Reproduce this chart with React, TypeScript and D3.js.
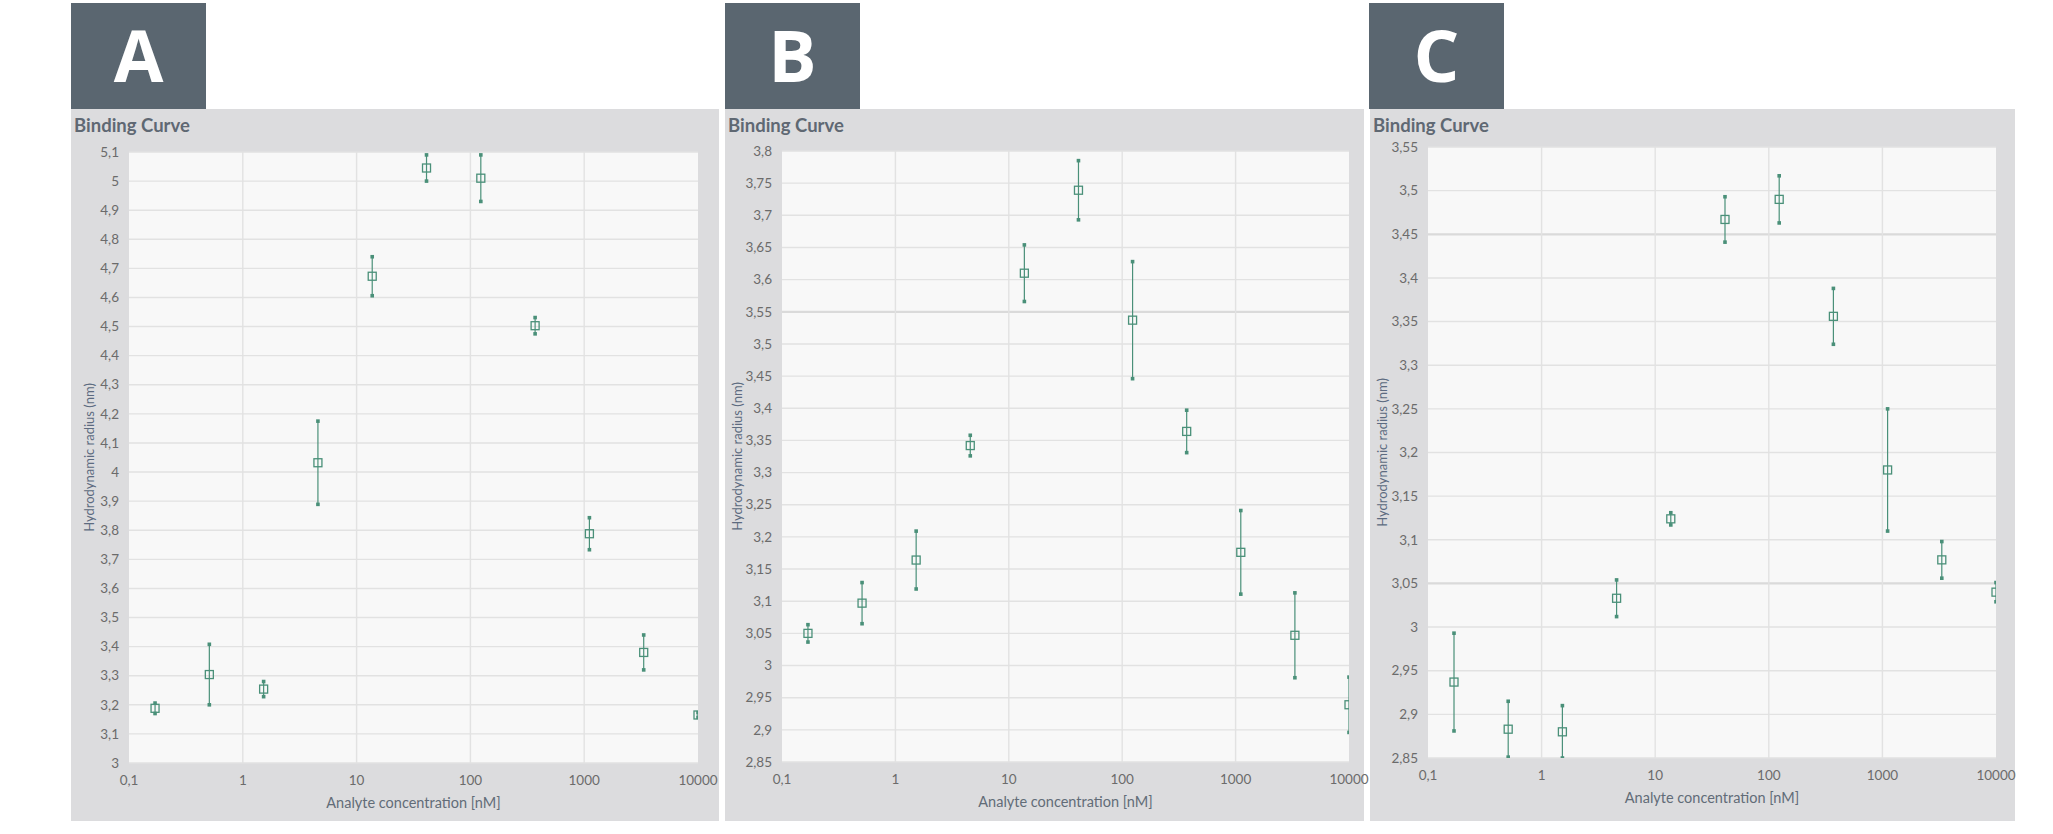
import * as d3 from 'd3'
import React from 'react'

// serial 1:3 dilution of the analyte, nM
const concentrations = [0.1694, 0.5081, 1.5242, 4.5725, 13.717, 41.152, 123.457, 370.37, 1111.1, 3333.3, 10000]

// hydrodynamic radius (nm), mean and half error bar
const radiusA = [3.188, 3.304, 3.254, 4.032, 4.673, 5.045, 5.01, 4.503, 3.788, 3.38, 3.165]
const errorA = [0.018, 0.104, 0.026, 0.143, 0.067, 0.045, 0.08, 0.028, 0.055, 0.06, 0.008]

const radiusB = [3.05, 3.097, 3.164, 3.342, 3.61, 3.739, 3.537, 3.364, 3.176, 3.047, 2.939]
const errorB = [0.0135, 0.032, 0.045, 0.016, 0.044, 0.046, 0.091, 0.033, 0.065, 0.066, 0.043]

const radiusC = [2.937, 2.883, 2.88, 3.033, 3.124, 3.467, 3.49, 3.356, 3.18, 3.077, 3.04]
const errorC = [0.056, 0.032, 0.03, 0.021, 0.007, 0.026, 0.027, 0.032, 0.07, 0.021, 0.011]

const xTicks = [0.1, 1, 10, 100, 1000, 10000]
const xTickLabels = ['0,1', '1', '10', '100', '1000', '10000']

const panelLetters = ['A', 'B', 'C']
const chartTitle = 'Binding Curve'
const xTitle = 'Analyte concentration [nM]'
const yTitle = 'Hydrodynamic radius (nm)'

const W = 2053
const H = 834
const green = '#4a9079'
const font = 'Lato, "Open Sans", sans-serif'

const panels = [
  {
    radius: radiusA, error: errorA, yDomain: [3, 5.1], yStep: 0.1,
    boxX: 71, frameX: 71, frameW: 648, plot: { l: 129, r: 698, t: 152, b: 763 }, yTitleX: 89, heavy: [] as number[],
  },
  {
    radius: radiusB, error: errorB, yDomain: [2.85, 3.8], yStep: 0.05,
    boxX: 725, frameX: 725, frameW: 639, plot: { l: 782, r: 1349, t: 151, b: 762 }, yTitleX: 737, heavy: [3.55],
  },
  {
    radius: radiusC, error: errorC, yDomain: [2.85, 3.55], yStep: 0.05,
    boxX: 1369, frameX: 1370, frameW: 645, plot: { l: 1428, r: 1996, t: 147, b: 758 }, yTitleX: 1382, heavy: [3.45, 3.05],
  },
]

const fmt = (v: number) => String(+v.toFixed(2)).replace('.', ',')

function Panel({ p, letter, idx }: { p: (typeof panels)[number]; letter: string; idx: number }) {
  const { plot } = p
  const x = d3.scaleLog().domain([0.1, 10000]).range([plot.l, plot.r])
  const y = d3.scaleLinear().domain(p.yDomain).range([plot.b, plot.t])
  const n = Math.round((p.yDomain[1] - p.yDomain[0]) / p.yStep)
  const yTicks = d3.range(n + 1).map((i) => +(p.yDomain[0] + i * p.yStep).toFixed(3))
  const clipId = `clip-${idx}`
  const cx = (plot.l + plot.r) / 2
  const cy = (plot.t + plot.b) / 2

  return (
    <g>
      {/* letter tab */}
      <rect x={p.boxX} y={3} width={135} height={106} fill="#5a6670" />
      <text
        x={p.boxX + 67.5}
        y={82}
        textAnchor="middle"
        fill="#fff"
        fontFamily='"Open Sans", sans-serif'
        fontWeight={700}
        fontSize={72}
      >
        {letter}
      </text>

      {/* grey frame */}
      <rect x={p.frameX} y={109} width={p.frameW} height={712} fill="#dcdcde" />
      <text x={p.frameX + 3} y={132} fill="#5f6873" fontFamily={font} fontWeight={700} fontSize={18.5}>
        {chartTitle}
      </text>

      <defs>
        <clipPath id={clipId}>
          <rect x={plot.l} y={plot.t} width={plot.r - plot.l} height={plot.b - plot.t} />
        </clipPath>
      </defs>
      <rect x={plot.l} y={plot.t} width={plot.r - plot.l} height={plot.b - plot.t} fill="#f8f8f8" />

      {/* grid */}
      {yTicks.map((t) => (
        <line
          key={`h${t}`}
          x1={plot.l}
          x2={plot.r}
          y1={y(t)}
          y2={y(t)}
          stroke={p.heavy.includes(t) ? '#dadada' : '#e2e2e2'}
          strokeWidth={p.heavy.includes(t) ? 2.2 : 1.4}
        />
      ))}
      {xTicks.slice(1, -1).map((t) => (
        <line key={`v${t}`} x1={x(t)} x2={x(t)} y1={plot.t} y2={plot.b} stroke="#e2e2e2" strokeWidth={1.4} />
      ))}

      {/* tick labels */}
      {yTicks.map((t) => (
        <text
          key={`yl${t}`}
          x={plot.l - 10}
          y={y(t)}
          dy="0.35em"
          textAnchor="end"
          fill="#6b6b6b"
          fontFamily={font}
          fontSize={13.5}
        >
          {fmt(t)}
        </text>
      ))}
      {xTicks.map((t, i) => (
        <text
          key={`xl${t}`}
          x={x(t)}
          y={plot.b + 17}
          dy="0.35em"
          textAnchor="middle"
          fill="#6b6b6b"
          fontFamily={font}
          fontSize={13.5}
        >
          {xTickLabels[i]}
        </text>
      ))}

      <text x={cx} y={plot.b + 45} textAnchor="middle" fill="#626c78" fontFamily={font} fontSize={14.5}>
        {xTitle}
      </text>
      <text
        transform={`translate(${p.yTitleX},${cy}) rotate(-90)`}
        textAnchor="middle"
        dy="0.35em"
        fill="#5d6b80"
        fontFamily={font}
        fontSize={13}
      >
        {yTitle}
      </text>

      {/* error bars + markers */}
      <g clipPath={`url(#${clipId})`}>
        {concentrations.map((c, i) => {
          const px = x(c)
          const lo = y(p.radius[i] - p.error[i])
          const hi = y(p.radius[i] + p.error[i])
          const py = y(p.radius[i])
          return (
            <g key={i}>
              <line x1={px} x2={px} y1={hi} y2={lo} stroke={green} strokeWidth={1.2} />
              <rect x={px - 1.8} y={hi - 1.8} width={3.6} height={3.6} fill={green} />
              <rect x={px - 1.8} y={lo - 1.8} width={3.6} height={3.6} fill={green} />
              <rect x={px - 4} y={py - 4} width={8} height={8} fill="none" stroke={green} strokeWidth={1.3} />
            </g>
          )
        })}
      </g>
    </g>
  )
}

export default function App() {
  return (
    <svg width={W} height={H} style={{ position: 'absolute', left: 0, top: 0, background: '#fff' }}>
      <rect width={W} height={H} fill="#fff" />
      {panels.map((p, i) => (
        <Panel key={i} p={p} letter={panelLetters[i]} idx={i} />
      ))}
    </svg>
  )
}
